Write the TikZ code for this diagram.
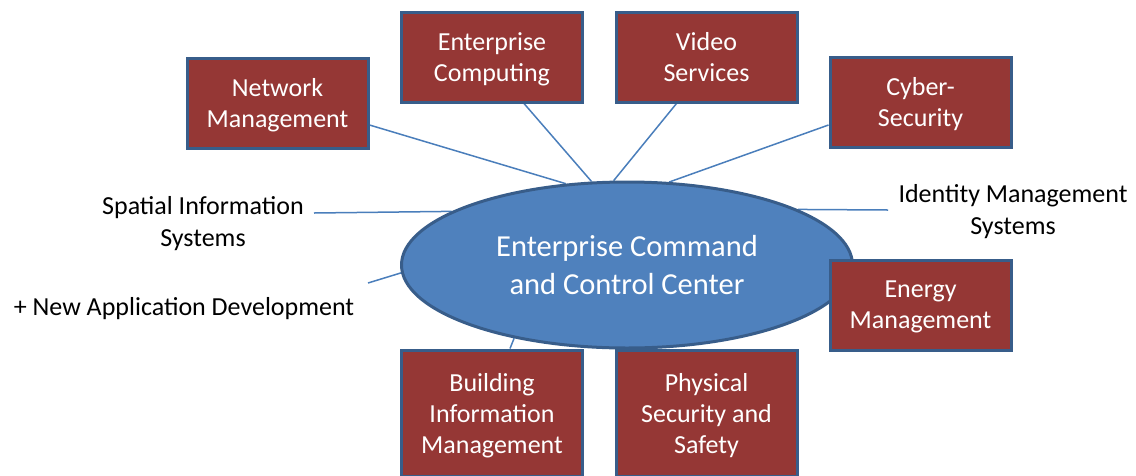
\documentclass[tikz,border=0pt]{standalone}
\usepackage{fontspec}
\setmainfont{Carlito}
\usetikzlibrary{shapes.geometric, positioning, calc, backgrounds}
\definecolor{boxred}{HTML}{953735}
\definecolor{edgeblue}{HTML}{385D8A}
\definecolor{hubblue}{HTML}{4F81BD}
\definecolor{linkblue}{HTML}{4A7EBB}

\begin{document}
\begin{tikzpicture}[x=1pt, y=-1pt,
    box/.style={draw=edgeblue, line width=3pt, fill=boxred, text=white,
        minimum width=181pt, minimum height=90pt, inner sep=0pt, align=center,
        text depth=0pt, font=\fontsize{26}{31}\selectfont},
    hub/.style={ellipse, draw=edgeblue, line width=3pt, fill=hubblue, text=white,
        minimum width=451pt, minimum height=166pt, inner sep=0pt, align=center,
        text depth=0pt, font=\fontsize{30.5}{38}\selectfont},
    note/.style={align=center, text depth=0pt, font=\fontsize{26}{32}\selectfont},
    link/.style={draw=linkblue, line width=1.5pt}]
    \useasboundingbox (0,0) rectangle (1136,475);
    \clip (0,0) rectangle (1136,475);
    % 中心
    \node[hub] (ecc) at (627,265) {Enterprise Command\\and Control Center};
    % 周围的系统
    \node[box] (nm) at (277.5,103) {Network\\Management};
    \node[box] (ec) at (492,57) {Enterprise\\Computing};
    \node[box] (vs) at (706.5,57) {Video\\Services};
    \node[box] (cs) at (920.5,102) {Cyber-\\Security};
    \node[box] (em) at (920.5,305) {Energy\\Management};
    \node[box, minimum height=126pt] (bim) at (492,413) {Building\\Information\\Management};
    \node[box, minimum height=126pt] (pss) at (706.5,413) {Physical\\Security and\\Safety};
    \node[note] (sis) at (203,221) {Spatial Information\\Systems};
    \node[note] (ims) at (1013,209) {Identity Management\\Systems};
    \node[note] (nad) at (184,306) {+ New Application Development};
    \coordinate (sp) at (314,213);
    \coordinate (im) at (888,210);
    \coordinate (na) at (368,283);
    \begin{scope}[on background layer]
        \draw[link] ($(nm.east)+(0,22)$) -- (ecc.127);
        \draw[link] ($(ec.south)+(32,0)$) -- (ecc.113);
        \draw[link] ($(vs.south)+(-30,0)$) -- (ecc.99);
        \draw[link] ($(cs.west)+(0,23)$) -- (ecc.63);
        \draw[link] (sp) -- (ecc.163);
        \draw[link] (im) -- (ecc.18);
        \draw[link] (na) -- (ecc.182);
        \draw[link] ($(bim.north)+(18,0)$) -- (ecc.213);
    \end{scope}
\end{tikzpicture}
\end{document}
